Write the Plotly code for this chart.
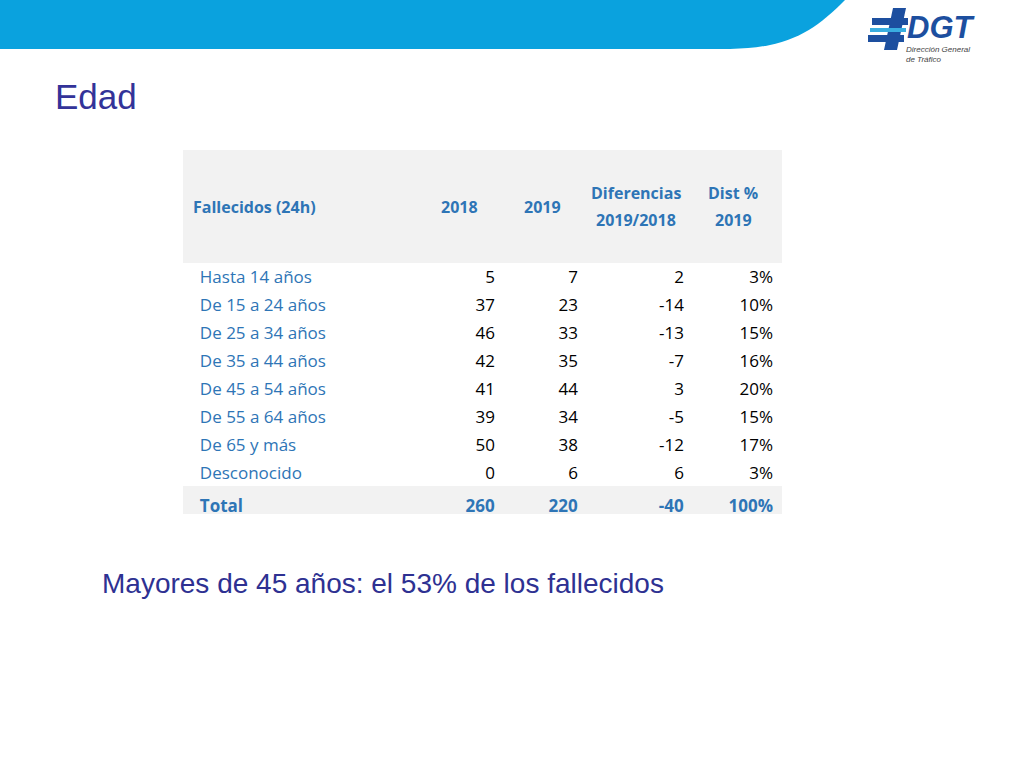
import plotly.graph_objects as go

categories = ["Hasta 14 años", "De 15 a 24 años", "De 25 a 34 años", "De 35 a 44 años",
              "De 45 a 54 años", "De 55 a 64 años", "De 65 y más", "Desconocido", "Total"]
v2018 = [5, 37, 46, 42, 41, 39, 50, 0, 260]
v2019 = [7, 23, 33, 35, 44, 34, 38, 6, 220]
diff = [2, -14, -13, -7, 3, -5, -12, 6, -40]
dist = ["3%", "10%", "15%", "16%", "20%", "15%", "17%", "3%", "100%"]
headers = [["Fallecidos (24h)"], ["2018"], ["2019"], ["Diferencias", "2019/2018"], ["Dist %", "2019"]]

W, H = 1024, 768
def px(x): return x / W
def py(y): return 1 - y / H

blue = "#2e75b6"
n = len(categories)
def bold_last(vals):
    return [("<b>%s</b>" % v) if i == n - 1 else str(v) for i, v in enumerate(vals)]

fills = ["#f2f2f2" if i == n - 1 else "white" for i in range(n)]
numcol = ["black"] * (n - 1) + [blue]

fig = go.Figure()
fig.add_trace(go.Table(
    domain=dict(x=[px(183), px(781)], y=[py(514), py(150)]),
    columnwidth=[240, 80, 83, 106, 89],
    header=dict(values=[""] * 5,
                fill_color="#f2f2f2", line_color="#f2f2f2",
                height=112),
    cells=dict(values=[["  " + c if i < n - 1 else "  <b>%s</b>" % c for i, c in enumerate(categories)],
                       bold_last(v2018), bold_last(v2019), bold_last(diff), bold_last(dist)],
               fill_color=[fills] * 5, line_color=[fills] * 5,
               align=["left", "right", "right", "right", "right"],
               font=dict(family="Open Sans", size=17, color=[[blue] * n, numcol, numcol, numcol, numcol]),
               height=28),
))

hx = [191, 459, 542, 636, 733]
for i, (lines, x) in enumerate(zip(headers, hx)):
    ys = [207] if len(lines) == 1 else [193, 220]
    for line, y in zip(lines, ys):
        fig.add_annotation(x=px(x), y=py(y), xref="paper", yref="paper",
                           xanchor="left" if i == 0 else "center", yanchor="middle",
                           text="<b>%s</b>" % line, showarrow=False,
                           font=dict(family="Open Sans", size=16, color=blue))

fig.add_shape(type="path", xref="paper", yref="paper",
              path="M 0 1 L %f 1 C %f %f %f %f %f %f L 0 %f Z" % (
                  px(845), px(815), py(30), px(790), py(48), px(730), py(49), py(49)),
              fillcolor="#0aa2de", line_width=0, layer="below")

logo_dark = "#1d4f9f"
fig.add_shape(type="path", xref="paper", yref="paper",
              path="M %f %f L %f %f L %f %f L %f %f Z" % (px(893), py(8), px(906), py(8), px(897), py(50), px(884), py(50)),
              fillcolor=logo_dark, line_width=0)
fig.add_shape(type="rect", xref="paper", yref="paper", x0=px(872), x1=px(908), y0=py(18), y1=py(25),
              fillcolor=logo_dark, line_width=0)
fig.add_shape(type="rect", xref="paper", yref="paper", x0=px(870), x1=px(906), y0=py(28), y1=py(32),
              fillcolor="#3aaee0", line_width=0)
fig.add_shape(type="rect", xref="paper", yref="paper", x0=px(868), x1=px(904), y0=py(35), y1=py(42),
              fillcolor=logo_dark, line_width=0)
fig.add_annotation(x=px(905), y=py(27), xref="paper", yref="paper", xanchor="left", yanchor="middle",
                   text="<b><i>DGT</i></b>", showarrow=False,
                   font=dict(family="Liberation Sans", size=31, color=logo_dark))
fig.add_annotation(x=px(904), y=py(54), xref="paper", yref="paper", xanchor="left", yanchor="middle",
                   text="<i>Dirección General<br>de Tráfico</i>", showarrow=False, align="left",
                   font=dict(family="Liberation Sans", size=8, color="#444"))

fig.add_annotation(x=px(53), y=py(96), xref="paper", yref="paper", xanchor="left", yanchor="middle",
                   text="Edad", showarrow=False,
                   font=dict(family="Liberation Sans", size=35, color="#333399"))
fig.add_annotation(x=px(100), y=py(583), xref="paper", yref="paper", xanchor="left", yanchor="middle",
                   text="Mayores de 45 años: el 53% de los fallecidos", showarrow=False,
                   font=dict(family="Liberation Sans", size=28, color="#2e3192"))

fig.update_layout(width=W, height=H, margin=dict(l=0, r=0, t=0, b=0),
                  paper_bgcolor="white", plot_bgcolor="white")
fig.write_html("out.html", config={"displayModeBar": False})
with open("out.html", encoding="utf-8") as f:
    html = f.read()
html = html.replace("<head>", "<head><style>html,body{margin:0;padding:0;overflow:hidden}</style>", 1)
with open("out.html", "w", encoding="utf-8") as f:
    f.write(html)
